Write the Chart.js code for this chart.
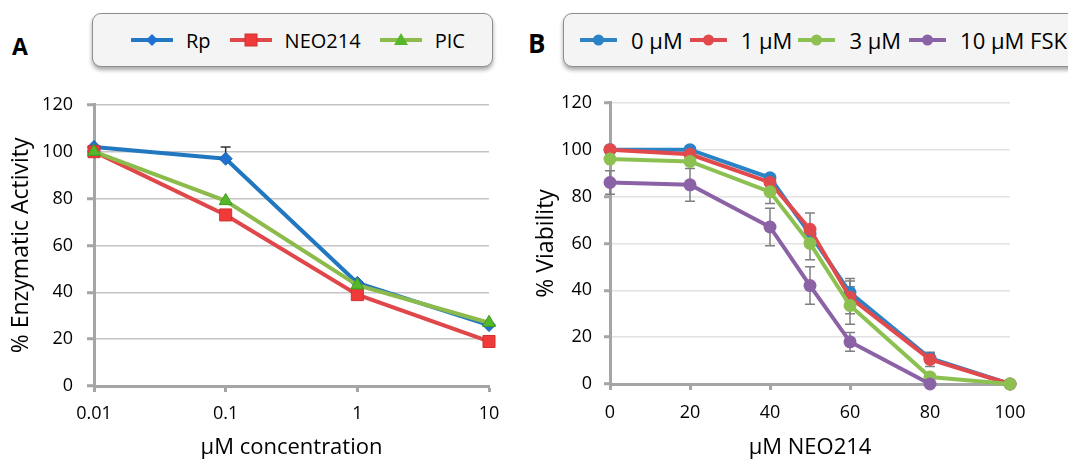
<!DOCTYPE html>
<html>
<head>
<meta charset="utf-8">
<script src="https://cdn.jsdelivr.net/npm/chart.js@4.4.0/dist/chart.umd.min.js"></script>
<style>
body { margin: 0; background: #fff; }
#wrap { position: relative; width: 1068px; height: 459px; overflow: hidden; font-family: 'Open Sans', sans-serif; }
.letter { position: absolute; font-weight: bold; color: #000; }
.legend { position: absolute; top: 13px; height: 54px; box-sizing: border-box; border: 1px solid #8e8e8e; border-radius: 9px;
  background: #f4f4f4; box-shadow: 0 3px 4px rgba(0,0,0,0.35); display: flex; align-items: center; color: #000; }
.legend svg { display: block; }
.item { display: flex; align-items: center; }
canvas { position: absolute; }
</style>
</head>
<body>
<div id="wrap">
  <div class="letter" style="left:12px; top:35px; font-size:23px; line-height:23px;">A</div>
  <div class="letter" style="left:528px; top:30px; font-size:26px; line-height:26px;">B</div>
  <div class="legend" id="legA" style="left:92px; width:401px; padding-left:38px; font-size:20px;"></div>
  <div class="legend" id="legB" style="left:563px; width:520px; padding-left:16px; font-size:22px;"></div>
  <canvas id="chartA" width="520" height="379" style="left:0; top:80px;"></canvas>
  <canvas id="chartB" width="538" height="379" style="left:530px; top:80px;"></canvas>
</div>
<script>
// panel A - enzymatic activity vs concentration (log axis)
const concA = [0.01, 0.1, 1, 10];
const ticksA = [0.01, 0.1, 1, 10];
const rpVals = [102, 97, 44, 26];
const rpErrUp = [0, 5, 0, 0];
const rpErrDown = [0, 0, 0, 0];
const neoVals = [100, 73, 39, 19];
const picVals = [100, 79, 43, 27];

// panel B - viability vs NEO214 dose
const doseB = [0, 20, 40, 50, 60, 80, 100];
const fsk0 = [100, 100, 88, 64, 39, 11, 0];
const fsk1 = [100, 98, 86, 66, 37, 10.5, 0];
const fsk3 = [96, 95, 82, 60, 33.5, 3, 0];
const fsk10 = [86, 85, 67, 42, 18, 0, null];
const err0 = [0, 0, 1, 0, 6, 2, 0];
const err1 = [0, 0, 0, 7, 7, 3, 0];
const err3 = [0, 0, 5, 7, 8, 0, 0];
const err10 = [5, 7, 8, 8, 4, 0, 0];

Chart.defaults.font.family = "'Open Sans', sans-serif";
Chart.defaults.color = '#000';

const axisGray = '#a5a5a5';

function pts(xs, ys){
	return xs.map((x, i) => ({x: x, y: ys[i]}));
}

// draws vertical error bars behind the lines
const errorBars = {
	id: 'errorBars',
	beforeDatasetsDraw(chart){
		const ctx = chart.ctx, xs = chart.scales.x, ys = chart.scales.y;
		chart.data.datasets.forEach(ds => {
			if(!ds.errors){ return; }
			var down = ds.errorsDown || ds.errors;
			ds.data.forEach((p, i) => {
				const up = ds.errors[i], dn = down[i];
				if((!up && !dn) || p.y == null){ return; }
				const x = xs.getPixelForValue(p.x);
				const y1 = ys.getPixelForValue(p.y + up);
				const y2 = ys.getPixelForValue(p.y - dn);
				ctx.save();
				ctx.strokeStyle = ds.errorColor || '#7f7f7f';
				ctx.lineWidth = 1.5;
				ctx.beginPath();
				ctx.moveTo(x, y1); ctx.lineTo(x, y2);
				if(up){ ctx.moveTo(x - 5, y1); ctx.lineTo(x + 5, y1); }
				if(dn){ ctx.moveTo(x - 5, y2); ctx.lineTo(x + 5, y2); }
				ctx.stroke();
				ctx.restore();
			});
		});
	}
};

function yAxis(width, title, titlePad, gridColor, tickLen, pad){
	return {
		min: 0, max: 120,
		ticks: {stepSize: 20, font: {size: 18}, color: '#000', padding: pad},
		grid: {color: gridColor, lineWidth: 1.5, tickLength: tickLen, tickColor: axisGray, tickWidth: 3},
		border: {color: axisGray, width: 3},
		title: {display: true, text: title, font: {size: 23}, color: '#000', padding: {top: titlePad, bottom: 0}},
		afterFit: s => { s.width = width; }
	};
}

const chartA = new Chart(document.getElementById('chartA'), {
	type: 'line',
	data: {
		datasets: [
		{
			label: 'Rp',
			data: pts(concA, rpVals),
			errors: rpErrUp,
			errorsDown: rpErrDown,
			errorColor: '#333',
			borderColor: '#2178c0',
			borderWidth: 4,
			pointStyle: 'rectRot',
			pointRadius: 6.5,
			pointBackgroundColor: '#1f72d0',
			pointBorderColor: '#1a5fa8',
			pointBorderWidth: 1,
			clip: false,
			order: 3
		},
		{
			label: 'NEO214',
			data: pts(concA, neoVals),
			borderColor: '#e0474a',
			borderWidth: 4,
			pointStyle: 'rect',
			pointRadius: 8.5,
			pointBackgroundColor: '#f03a3a',
			pointBorderColor: '#d23030',
			pointBorderWidth: 1,
			clip: false,
			order: 2
		},
		{
			label: 'PIC',
			data: pts(concA, picVals),
			borderColor: '#8cbb4c',
			borderWidth: 4,
			pointStyle: 'triangle',
			pointRadius: 7.5,
			pointBackgroundColor: '#55b82a',
			pointBorderColor: '#3f9a20',
			pointBorderWidth: 1,
			clip: false,
			order: 1
		}
		]
	},
	options: {
		responsive: false,
		animation: false,
		layout: {padding: {left: 0, right: 31, top: 18, bottom: 0}},
		plugins: {legend: {display: false}, tooltip: {enabled: false}},
		scales: {
			x: {
				type: 'logarithmic', min: 0.01, max: 10,
				afterBuildTicks: s => { s.ticks = ticksA.map(v => ({value: v})); },
				afterFit: s => { s.height = 73; },
				ticks: {callback: v => String(v), font: {size: 18}, color: '#000', padding: 11, maxRotation: 0, autoSkip: false},
				grid: {drawOnChartArea: false, tickLength: 6, tickColor: axisGray, tickWidth: 3},
				border: {color: axisGray, width: 3},
				title: {display: true, text: 'µM concentration', font: {size: 22, lineHeight: 1}, color: '#000', padding: 0}
			},
			y: yAxis(94, '% Enzymatic Activity', 8, '#c4c4c4', 7, 14)
		}
	},
	plugins: [errorBars]
});

const colB = ['#2b83c6', '#e04a4d', '#8cc152', '#8c62a6'];
const chartB = new Chart(document.getElementById('chartB'), {
	type: 'line',
	data: {
		datasets: [
			{label: '0 µM', data: pts(doseB, fsk0), errors: err0, borderColor: colB[0], pointBackgroundColor: colB[0], order: 4},
			{label: '1 µM', data: pts(doseB, fsk1), errors: err1, borderColor: colB[1], pointBackgroundColor: colB[1], order: 3},
			{label: '3 µM', data: pts(doseB, fsk3), errors: err3, borderColor: colB[2], pointBackgroundColor: colB[2], order: 2},
			{label: '10 µM FSK', data: pts(doseB, fsk10), errors: err10, borderColor: colB[3], pointBackgroundColor: colB[3], order: 1}
		].map(d => Object.assign(d, {borderWidth: 4, pointRadius: 6.5, pointBorderWidth: 0, pointStyle: 'circle', clip: false}))
	},
	options: {
		responsive: false,
		animation: false,
		layout: {padding: {left: 0, right: 58, top: 20, bottom: 0}},
		plugins: {legend: {display: false}, tooltip: {enabled: false}},
		scales: {
			x: {
				type: 'linear', min: 0, max: 100,
				ticks: {stepSize: 20, font: {size: 18}, color: '#000', padding: 12, maxRotation: 0},
				afterFit: s => { s.height = 75; },
				grid: {drawOnChartArea: false, tickLength: 6, tickColor: axisGray, tickWidth: 3},
				border: {color: axisGray, width: 3},
				title: {display: true, text: 'µM NEO214', font: {size: 22, lineHeight: 1}, color: '#000', padding: 0}
			},
			y: yAxis(80, '% Viability', 3, '#e2e2e2', 6, 12)
		}
	},
	plugins: [errorBars]
});

// html legends with line + marker icons
function iconA(color, marker){
	var m = '';
	if(marker == 'diamond'){ m = "<polygon points='21,4 27,10 21,16 15,10' fill='#1f72d0'/>"; }
	if(marker == 'square'){ m = "<rect x='15' y='4' width='12' height='12' fill='#f03a3a' stroke='#d23030'/>"; }
	if(marker == 'triangle'){ m = "<polygon points='21,3 28,15 14,15' fill='#55b82a'/>"; }
	return "<svg width='42' height='20'><line x1='1' y1='10' x2='41' y2='10' stroke='" + color + "' stroke-width='4' stroke-linecap='round'/>" + m + "</svg>";
}
function iconB(color){
	return "<svg width='37' height='20'><line x1='1' y1='10' x2='36' y2='10' stroke='" + color + "' stroke-width='4' stroke-linecap='round'/>"
		+ "<circle cx='18.5' cy='10' r='5.5' fill='" + color + "'/></svg>";
}

var legA = [['Rp', '#2178c0', 'diamond'], ['NEO214', '#e0474a', 'square'], ['PIC', '#8cbb4c', 'triangle']];
document.getElementById('legA').innerHTML = legA.map((l, i) =>
	"<div class='item' style='margin-right:" + (i < 2 ? 19 : 0) + "px'>" + iconA(l[1], l[2]) + "<span style='margin-left:13px'>" + l[0] + "</span></div>"
).join('');

var gapsB = [7, 6, 8, 0];
document.getElementById('legB').innerHTML = chartB.data.datasets.map((d, i) =>
	"<div class='item' style='margin-right:" + gapsB[i] + "px'>" + iconB(colB[i]) + "<span style='margin-left:14px'>" + d.label + "</span></div>"
).join('');
</script>
</body>
</html>
